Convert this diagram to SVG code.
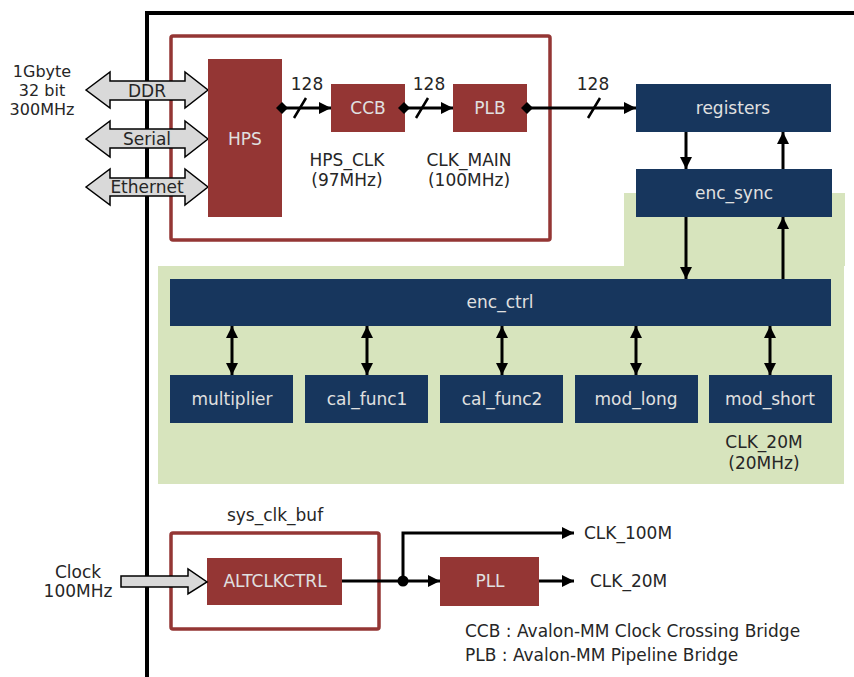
<svg xmlns="http://www.w3.org/2000/svg" width="854" height="677" viewBox="0 0 854 677">
<defs>
<style>
text{font-family:"DejaVu Sans","Liberation Sans",sans-serif;font-size:17px;fill:#262626;text-anchor:middle;dominant-baseline:central}
.sm{font-size:16px}
.red{fill:#943634}
.blue{fill:#17365d}
.lbl{fill:#e0e0e0}
.frame{fill:none;stroke:#943634;stroke-width:3.5}
.ln{stroke:#000;stroke-width:3;fill:none}
.gray{fill:#d9d9d9;stroke:#000;stroke-width:1.5}
.lt{text-anchor:start}
</style>
<marker id="ah" viewBox="0 0 10 10" refX="10" refY="5" markerWidth="4" markerHeight="4" orient="auto-start-reverse" markerUnits="strokeWidth"><path d="M0,0L10,5L0,10z" fill="#000"/></marker>
<marker id="dm" viewBox="0 0 10 10" refX="5" refY="5" markerWidth="4" markerHeight="4" orient="auto" markerUnits="strokeWidth"><path d="M0,5L5,0L10,5L5,10z" fill="#000"/></marker>
</defs>
<rect width="854" height="677" fill="#fff"/>
<path d="M854,13H147V677" fill="none" stroke="#000" stroke-width="4"/>
<path d="M624,193H845V266H624Z M158,266H844V484H158Z" fill="#d7e4bd"/>
<rect class="frame" x="171" y="36" width="379" height="204" rx="2"/>
<rect class="frame" x="171" y="533" width="208" height="96" rx="2"/>
<g id="ddr"><path class="gray" d="M86,90L110,72V81H185V72L208,90L185,108V100H110V108Z"/><text x="147" y="91">DDR</text></g>
<g id="serial"><path class="gray" d="M86,139L110,121V129H185V121L208,139L185,157V148H110V157Z"/><text x="147" y="139">Serial</text></g>
<g id="ethernet"><path class="gray" d="M86,187L110,169V178H185V169L208,187L185,205V196H110V205Z"/><text x="147" y="187">Ethernet</text></g>
<g id="mem-label"><text class="sm" x="42" y="71">1Gbyte</text><text class="sm" x="42" y="90">32 bit</text><text class="sm" x="42" y="109">300MHz</text></g>
<g id="hps"><rect class="red" x="208" y="59" width="74" height="158"/><text class="lbl" x="245" y="139">HPS</text></g>
<g id="ccb"><rect class="red" x="331" y="84" width="74" height="48"/><text class="lbl" x="368" y="108">CCB</text></g>
<g id="plb"><rect class="red" x="453" y="84" width="74" height="48"/><text class="lbl" x="490" y="108">PLB</text></g>
<g id="registers"><rect class="blue" x="636" y="84" width="195" height="48"/><text class="lbl" x="733" y="108">registers</text></g>
<g id="enc_sync"><rect class="blue" x="636" y="169" width="196" height="48"/><text class="lbl" x="734" y="193">enc_sync</text></g>
<g id="enc_ctrl"><rect class="blue" x="170" y="279" width="661" height="47"/><text class="lbl" x="500" y="302">enc_ctrl</text></g>
<g id="multiplier"><rect class="blue" x="170" y="375" width="123" height="48"/><text class="lbl" x="232" y="399">multiplier</text></g>
<g id="cal_func1"><rect class="blue" x="305" y="375" width="123" height="48"/><text class="lbl" x="367" y="399">cal_func1</text></g>
<g id="cal_func2"><rect class="blue" x="440" y="375" width="123" height="48"/><text class="lbl" x="502" y="399">cal_func2</text></g>
<g id="mod_long"><rect class="blue" x="575" y="375" width="123" height="48"/><text class="lbl" x="636" y="399">mod_long</text></g>
<g id="mod_short"><rect class="blue" x="709" y="375" width="123" height="48"/><text class="lbl" x="770" y="399">mod_short</text></g>
<g id="altclkctrl"><rect class="red" x="207" y="558" width="135" height="47"/><text class="lbl" x="275" y="581">ALTCLKCTRL</text></g>
<g id="pll"><rect class="red" x="440" y="557" width="99" height="49"/><text class="lbl" x="490" y="581">PLL</text></g>
<g id="clock-in"><path class="gray" d="M121,576H188V569L207,582L188,594V587H121Z"/><text x="78" y="572">Clock</text><text x="78" y="591">100MHz</text></g>
<g id="labels">
<text x="307" y="84">128</text><text x="429" y="84">128</text><text x="593" y="84">128</text>
<text x="347" y="160">HPS_CLK</text><text x="347" y="180">(97MHz)</text>
<text x="469" y="160">CLK_MAIN</text><text x="469" y="180">(100MHz)</text>
<text x="764" y="442">CLK_20M</text><text x="764" y="463">(20MHz)</text>
<text x="275" y="515">sys_clk_buf</text>
<text class="lt" x="584" y="533">CLK_100M</text>
<text class="lt" x="590" y="581">CLK_20M</text>
<text class="lt" x="465" y="631">CCB : Avalon-MM Clock Crossing Bridge</text>
<text class="lt" x="465" y="655">PLB : Avalon-MM Pipeline Bridge</text>
</g>
<g id="connectors">
<path class="ln" d="M282,108H331" marker-start="url(#dm)" marker-end="url(#ah)"/>
<path class="ln" d="M404,108H453" marker-start="url(#dm)" marker-end="url(#ah)"/>
<path class="ln" d="M527,108H636" marker-start="url(#dm)" marker-end="url(#ah)"/>
<path d="M294,118L306,98M416,118L428,98M588,118L600,98" stroke="#000" stroke-width="2.5"/>
<path class="ln" d="M686,132V169" marker-end="url(#ah)"/>
<path class="ln" d="M783,169V132" marker-end="url(#ah)"/>
<path class="ln" d="M686,217V279" marker-end="url(#ah)"/>
<path class="ln" d="M783,279V217" marker-end="url(#ah)"/>
<path class="ln" d="M232,326V375" marker-start="url(#ah)" marker-end="url(#ah)"/>
<path class="ln" d="M367,326V375" marker-start="url(#ah)" marker-end="url(#ah)"/>
<path class="ln" d="M502,326V375" marker-start="url(#ah)" marker-end="url(#ah)"/>
<path class="ln" d="M636,326V375" marker-start="url(#ah)" marker-end="url(#ah)"/>
<path class="ln" d="M770,326V375" marker-start="url(#ah)" marker-end="url(#ah)"/>
<path class="ln" d="M342,581H440" marker-end="url(#ah)"/>
<path class="ln" d="M403,581V533H574" marker-end="url(#ah)"/>
<path class="ln" d="M539,581H574" marker-end="url(#ah)"/>
<circle cx="403" cy="581" r="5.5" fill="#000"/>
</g>
</svg>
